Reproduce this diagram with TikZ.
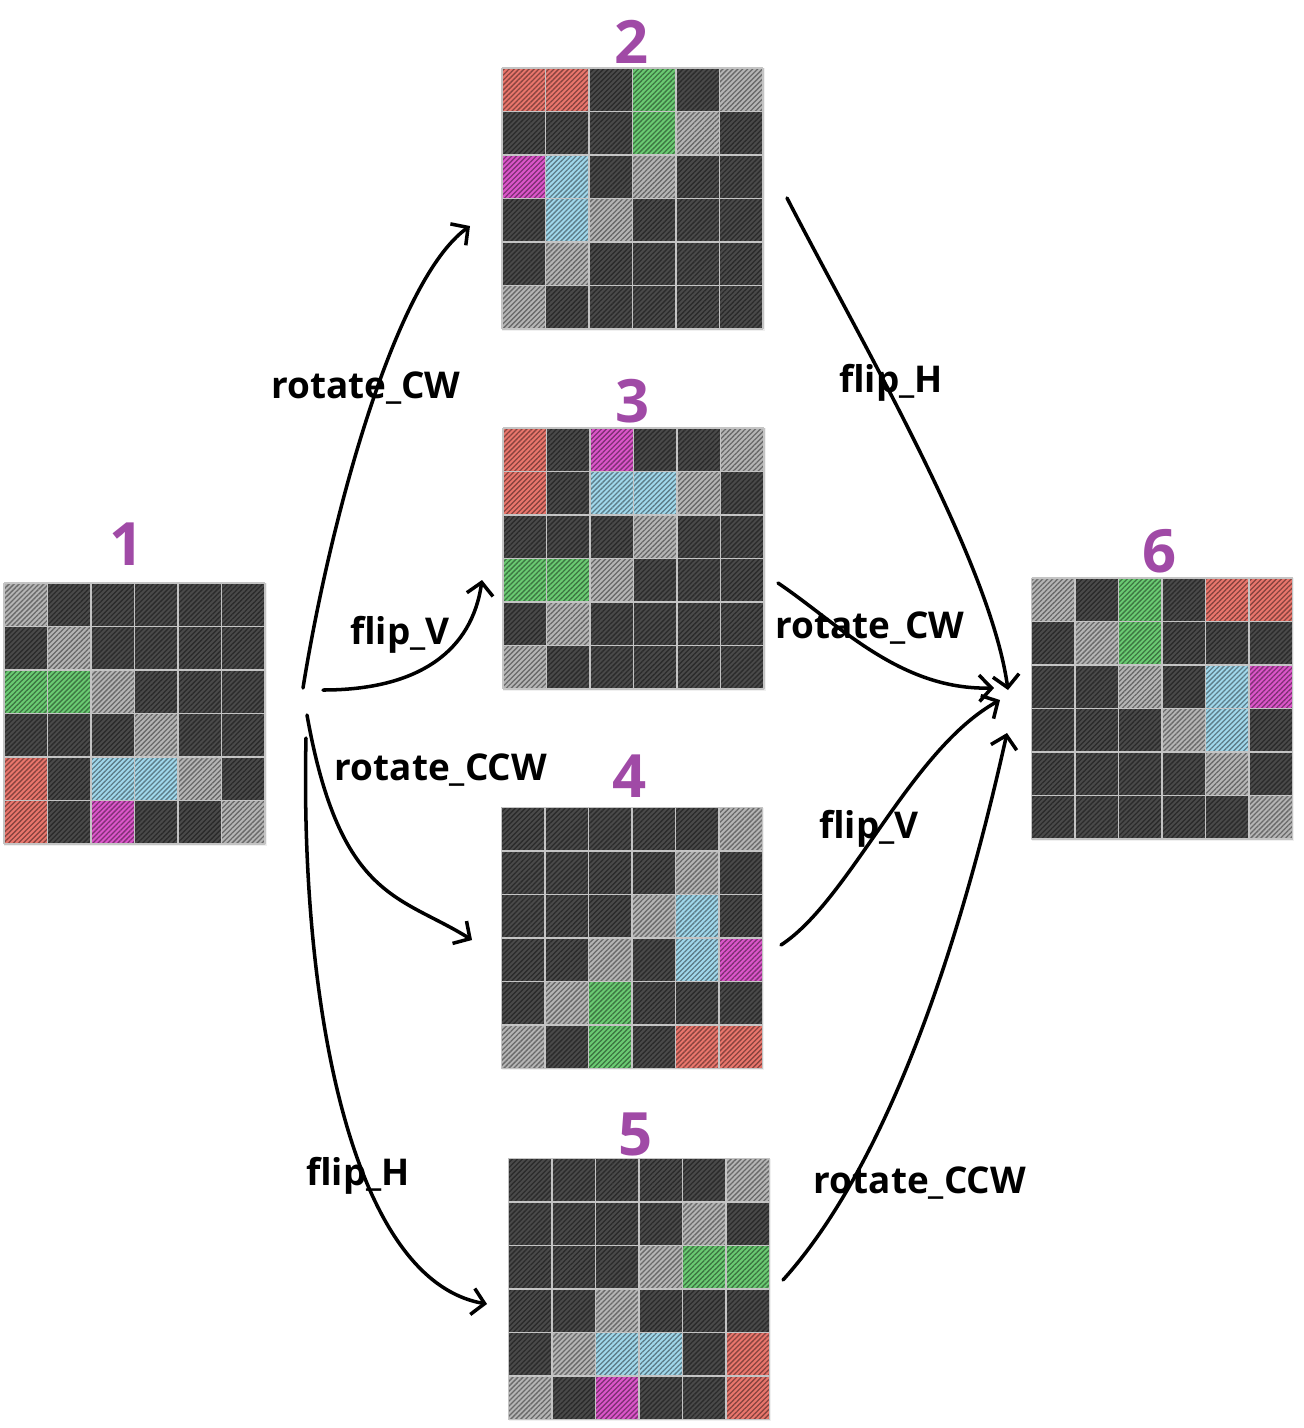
\documentclass[tikz,border=0pt]{standalone}
\usepackage{fontspec}
\setsansfont{Open Sans}
\usetikzlibrary{arrows.meta, patterns.meta}
\definecolor{cellD}{HTML}{4A4A4A}
\definecolor{cellL}{HTML}{B5B5B5}
\definecolor{cellR}{HTML}{EA766C}
\definecolor{cellG}{HTML}{6ACB72}
\definecolor{cellB}{HTML}{A0D8EC}
\definecolor{cellP}{HTML}{DC55CA}
\definecolor{gridLine}{HTML}{C4C4C4}
\definecolor{stepNum}{HTML}{A04AA6}
\def\cs{43.5}
\tikzset{
  boardfig/.style={x=0.02cm, y=-0.02cm, >={Straight Barb[length=7pt,width=15pt]}},
  board/.style={draw=black!6, line width=1pt, minimum size=5.22cm, inner sep=0pt},
  cell/.style={fill=#1, postaction={pattern={Lines[angle=45,distance=2pt,line width=0.75pt]}, pattern color=#1!58!black}},
  gridline/.style={draw=gridLine, line width=0.8pt},
  numlabel/.style={anchor=base, text=stepNum, font=\sffamily\bfseries\fontsize{34}{36}\selectfont},
  oplabel/.style={anchor=base, font=\sffamily\bfseries\fontsize{21}{24}\selectfont},
  move/.style={draw=black, line width=2pt, ->, line cap=round, line join=round},
}
% cells of a 6x6 board, row by row: D dark, L light, R red, G green, B blue, P pink
\newcommand{\boardcells}[2]{%
  \begin{scope}[shift={(#1.north west)}]
    \foreach \cellrow [count=\r from 0] in {#2}
      \foreach \cellcode [count=\c from 0] in \cellrow
        \path[cell=cell\cellcode] (\c*\cs,\r*\cs) rectangle ++(\cs,\cs);
    \foreach \i in {0,...,6} {
      \draw[gridline] (\i*\cs,0) -- (\i*\cs,6*\cs);
      \draw[gridline] (0,\i*\cs) -- (6*\cs,\i*\cs);
    }
  \end{scope}}

\begin{document}
\begin{tikzpicture}[boardfig]
  \useasboundingbox (0,0) rectangle (1304,1428);
  \node[board] (g1) at (135.5,714.5) {};
  \node[board] (g2) at (633.5,199.5) {};
  \node[board] (g3) at (634.5,559.5) {};
  \node[board] (g4) at (633,939) {};
  \node[board] (g5) at (640,1290) {};
  \node[board] (g6) at (1163,709.5) {};
  \boardcells{g1}{{L,D,D,D,D,D},{D,L,D,D,D,D},{G,G,L,D,D,D},{D,D,D,L,D,D},{R,D,B,B,L,D},{R,D,P,D,D,L}}
  \boardcells{g2}{{R,R,D,G,D,L},{D,D,D,G,L,D},{P,B,D,L,D,D},{D,B,L,D,D,D},{D,L,D,D,D,D},{L,D,D,D,D,D}}
  \boardcells{g3}{{R,D,P,D,D,L},{R,D,B,B,L,D},{D,D,D,L,D,D},{G,G,L,D,D,D},{D,L,D,D,D,D},{L,D,D,D,D,D}}
  \boardcells{g4}{{D,D,D,D,D,L},{D,D,D,D,L,D},{D,D,D,L,B,D},{D,D,L,D,B,P},{D,L,G,D,D,D},{L,D,G,D,R,R}}
  \boardcells{g5}{{D,D,D,D,D,L},{D,D,D,D,L,D},{D,D,D,L,G,G},{D,D,L,D,D,D},{D,L,B,B,D,R},{L,D,P,D,D,R}}
  \boardcells{g6}{{L,D,G,D,R,R},{D,L,G,D,D,D},{D,D,L,D,B,P},{D,D,D,L,B,D},{D,D,D,D,L,D},{D,D,D,D,D,L}}
  \node[numlabel] (n1) at (127,565) {1};
  \node[numlabel] (n2) at (632,63) {2};
  \node[numlabel] (n3) at (633,422) {3};
  \node[numlabel] (n4) at (630,797) {4};
  \node[numlabel] (n5) at (636,1155) {5};
  \node[numlabel] (n6) at (1160,572) {6};
  \coordinate (rotCWin) at (303,688);
  \coordinate (flipVin) at (323,690);
  \coordinate (rotCCWin) at (307,715);
  \coordinate (flipHin) at (306,738);
  \coordinate (rotCWto2) at (470,226);
  \coordinate (flipVto3) at (482,580);
  \coordinate (rotCCWto4) at (472,940);
  \coordinate (flipHto5) at (487,1304);
  \coordinate (flipHfrom2) at (787,198);
  \coordinate (rotCWfrom3) at (778,583);
  \coordinate (flipVfrom4) at (781,945);
  \coordinate (rotCCWfrom5) at (783,1280);
  \coordinate (in6a) at (1008,690);
  \coordinate (in6b) at (994,688);
  \coordinate (in6c) at (1000,700);
  \coordinate (in6d) at (1007,733);
  \draw[move] (rotCWin) .. controls (330,520) and (395,280) .. (rotCWto2);
  \draw[move] (flipVin) .. controls (420,690) and (472,650) .. (flipVto3);
  \draw[move] (rotCCWin) .. controls (340,900) and (400,895) .. (rotCCWto4);
  \draw[move] (flipHin) .. controls (300,1000) and (350,1280) .. (flipHto5);
  \draw[move] (flipHfrom2) .. controls (860,340) and (990,560) .. (in6a);
  \draw[move] (rotCWfrom3) .. controls (840,625) and (900,690) .. (in6b);
  \draw[move] (flipVfrom4) .. controls (850,900) and (910,750) .. (in6c);
  \draw[move] (rotCCWfrom5) .. controls (900,1150) and (970,900) .. (in6d);
  \node[oplabel] (op12) at (366,398) {rotate\_CW};
  \node[oplabel] (op13) at (400,644) {flip\_V};
  \node[oplabel] (op14) at (441,780) {rotate\_CCW};
  \node[oplabel] (op15) at (358,1185) {flip\_H};
  \node[oplabel] (op26) at (891,392) {flip\_H};
  \node[oplabel] (op36) at (870,638) {rotate\_CW};
  \node[oplabel] (op46) at (869,838) {flip\_V};
  \node[oplabel] (op56) at (920,1193) {rotate\_CCW};
\end{tikzpicture}
\end{document}
